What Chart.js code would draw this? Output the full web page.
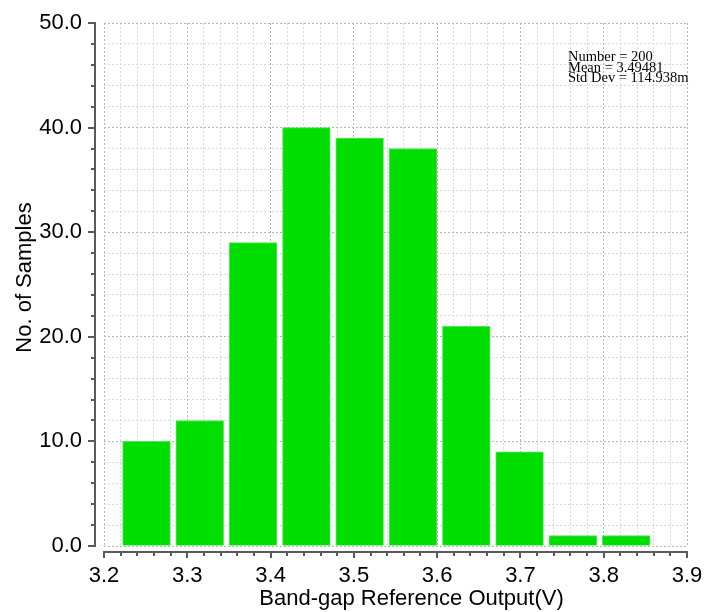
<!DOCTYPE html>
<html>
<head>
<meta charset="utf-8">
<script src="https://cdn.jsdelivr.net/npm/chart.js@4.4.1/dist/chart.umd.min.js"></script>
<style>
  html, body { margin: 0; padding: 0; background: #ffffff; }
  #wrap { width: 708px; height: 612px; }
</style>
</head>
<body>
<div id="wrap"><canvas id="c" width="708" height="612"></canvas></div>
<script>
// ---- data ----
const binCenters = [3.251, 3.315, 3.379, 3.443, 3.507, 3.571, 3.635, 3.699, 3.763, 3.827];
const sampleCounts = [10, 12, 29, 40, 39, 38, 21, 9, 1, 1];
const xTickLabels = ['3.2', '3.3', '3.4', '3.5', '3.6', '3.7', '3.8', '3.9'];
const yTickLabels = ['0.0', '10.0', '20.0', '30.0', '40.0', '50.0'];
const statsLines = ['Number = 200', 'Mean = 3.49481', 'Std Dev = 114.938m'];
const xTitle = 'Band-gap Reference Output(V)';
const yTitle = 'No. of Samples';

Chart.defaults.font.family = '"Liberation Sans", Arial, sans-serif';
Chart.defaults.color = '#000000';

function isMajorX(v) { return Math.abs(v * 10 - Math.round(v * 10)) < 1e-6; }
function isMajorY(v) { return Math.abs(v / 10 - Math.round(v / 10)) < 1e-6; }

const axesPlugin = {
  id: 'offsetAxes',
  afterDraw(chart) {
    const ctx = chart.ctx;
    const xs = chart.scales.x, ys = chart.scales.y;
    const area = chart.chartArea;
    ctx.save();
    ctx.strokeStyle = '#5a5a5a';
    ctx.lineWidth = 2;
    // y axis line (offset left of plot)
    const ax = area.left - 9;
    ctx.beginPath();
    ctx.moveTo(ax, ys.getPixelForValue(ys.max) - 1);
    ctx.lineTo(ax, ys.getPixelForValue(ys.min) + 1);
    ctx.stroke();
    ys.ticks.forEach(t => {
      const p = Math.round(ys.getPixelForValue(t.value));
      const len = isMajorY(t.value) ? 7 : 4;
      ctx.beginPath();
      ctx.moveTo(ax - len, p);
      ctx.lineTo(ax, p);
      ctx.stroke();
    });
    // x axis line (offset below plot)
    const ay = area.bottom + 6;
    ctx.beginPath();
    ctx.moveTo(xs.getPixelForValue(xs.min) - 1, ay);
    ctx.lineTo(xs.getPixelForValue(xs.max) + 1, ay);
    ctx.stroke();
    xs.ticks.forEach(t => {
      const p = Math.round(xs.getPixelForValue(t.value));
      const len = isMajorX(t.value) ? 6 : 4;
      ctx.beginPath();
      ctx.moveTo(p, ay);
      ctx.lineTo(p, ay + len);
      ctx.stroke();
    });
    // axis titles
    ctx.fillStyle = '#000000';
    ctx.font = '22px "Liberation Sans", Arial, sans-serif';
    ctx.textAlign = 'center';
    ctx.textBaseline = 'middle';
    ctx.fillText(xTitle, (area.left + area.right) / 2 + 16, 598.5);
    ctx.save();
    ctx.translate(25, (area.top + area.bottom) / 2 - 7);
    ctx.rotate(-Math.PI / 2);
    ctx.fillText(yTitle, 0, 0);
    ctx.restore();
    // statistics box text
    ctx.font = '14.5px "Liberation Serif", "Times New Roman", serif';
    ctx.textAlign = 'left';
    ctx.textBaseline = 'alphabetic';
    statsLines.forEach((s, i) => {
      ctx.fillText(s, 568, 61 + i * 10.5);
    });
    ctx.restore();
  }
};

new Chart(document.getElementById('c'), {
  type: 'bar',
  data: {
    datasets: [{
      data: binCenters.map((c, i) => ({ x: c, y: sampleCounts[i] })),
      backgroundColor: '#00dd00',
      borderColor: '#55e655',
      borderWidth: 1,
      barThickness: 'flex',
      categoryPercentage: 1.0,
      barPercentage: 0.895
    }]
  },
  options: {
    responsive: false,
    animation: false,
    layout: { padding: { top: 23, right: 21, bottom: 0, left: 0 } },
    plugins: { legend: { display: false }, tooltip: { enabled: false } },
    scales: {
      x: {
        type: 'linear',
        min: 3.2,
        max: 3.9,
        offset: false,
        afterFit(scale) {
          scale.height = 66;
          scale.paddingLeft = 0;
          scale.paddingRight = 0;
        },
        grid: {
          offset: false,
          drawTicks: false,
          lineWidth: 1,
          color: ctx => (ctx.tick && isMajorX(ctx.tick.value)) ? '#b4b4b4' : '#dadada'
        },
        border: { display: false, dash: [2, 2] },
        ticks: {
          stepSize: 0.02,
          autoSkip: false,
          maxRotation: 0,
          padding: 17,
          font: { size: 22 },
          color: '#000000',
          callback: v => isMajorX(v) ? xTickLabels[Math.round((v - 3.2) * 10)] : ''
        },
        title: { display: false, text: xTitle }
      },
      y: {
        type: 'linear',
        min: 0,
        max: 50,
        afterFit(scale) {
          scale.width = 104;
          scale.paddingTop = 0;
          scale.paddingBottom = 0;
        },
        grid: {
          drawTicks: false,
          lineWidth: 1,
          color: ctx => (ctx.tick && isMajorY(ctx.tick.value)) ? '#b4b4b4' : '#dadada'
        },
        border: { display: false, dash: [2, 2] },
        ticks: {
          stepSize: 2,
          autoSkip: false,
          padding: 22,
          font: { size: 22 },
          color: '#000000',
          callback: v => isMajorY(v) ? yTickLabels[Math.round(v / 10)] : ''
        },
        title: { display: false, text: yTitle }
      }
    }
  },
  plugins: [axesPlugin]
});
</script>
</body>
</html>
